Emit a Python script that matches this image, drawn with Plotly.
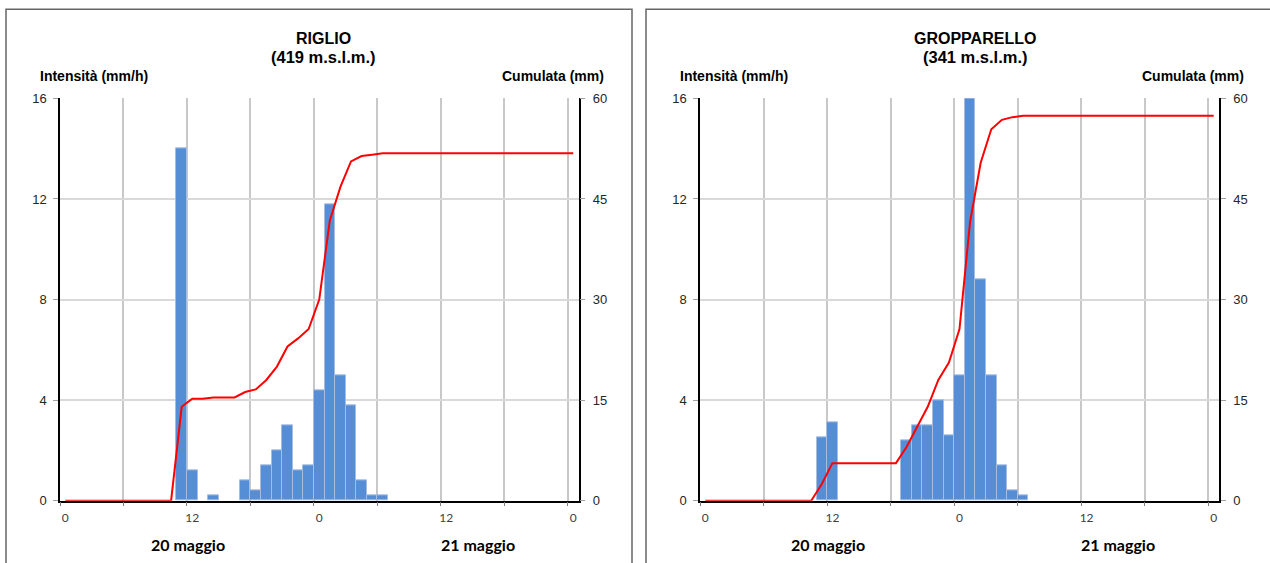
import numpy as np
import plotly.graph_objects as go

# ---------------- data ----------------
hours = list(range(49))  # hourly categories, 20 May 00:00 -> 22 May 00:00
tick_labels = ["0", "12", "0", "12", "0"]
day_labels = ["20 maggio", "21 maggio"]

stations = ["RIGLIO", "GROPPARELLO"]
altitudes = ["(419 m.s.l.m.)", "(341 m.s.l.m.)"]

# hourly intensity (mm/h)
riglio_int = [0, 0, 0, 0, 0, 0, 0, 0, 0, 0, 0, 14.0, 1.2, 0, 0.2, 0, 0, 0.8, 0.4, 1.4,
              2.0, 3.0, 1.2, 1.4, 4.4, 11.8, 5.0, 3.8, 0.8, 0.2, 0.2, 0, 0, 0, 0, 0, 0, 0,
              0, 0, 0, 0, 0, 0, 0, 0, 0, 0, 0]
gropparello_int = [0, 0, 0, 0, 0, 0, 0, 0, 0, 0, 0, 2.5, 3.1, 0, 0, 0, 0, 0, 0, 2.4,
                   3.0, 3.0, 4.0, 2.6, 5.0, 16.0, 8.8, 5.0, 1.4, 0.4, 0.2, 0, 0, 0, 0, 0, 0, 0,
                   0, 0, 0, 0, 0, 0, 0, 0, 0, 0, 0]

W, H = 1270, 563
def px(x):
    return x / W
def py(y):
    # vertical pixel position (as seen on the photographed page) -> paper fraction
    yf = (y - 6.7) / 0.9726
    return 1 - yf / H

BAR = "#558ED5"
BAR_EDGE = "#A7BDE0"
RED = "#FF0000"
AX_FONT = "Liberation Sans, Arial, sans-serif"
CAL_FONT = "Lato, Carlito, sans-serif"

fig = go.Figure()

panels = [
    dict(data=riglio_int, x="x", y="y", y2="y2", xl=60, xr=578.5, tc=323, il=38, cr=606, d=[188, 478]),
    dict(data=gropparello_int, x="x2", y="y3", y2="y4", xl=700, xr=1219, tc=975, il=678, cr=1246, d=[828, 1118]),
]

centers = [h + 0.5 for h in hours]
for i, p in enumerate(panels):
    vals = p["data"]
    cum = np.cumsum(vals)
    bar_y = [v if v > 0 else None for v in vals]
    fig.add_trace(go.Bar(x=centers, y=bar_y, width=1.0, xaxis=p["x"], yaxis=p["y"],
                         marker=dict(color=BAR, line=dict(color=BAR_EDGE, width=1)),
                         showlegend=False))
    fig.add_trace(go.Scatter(x=centers, y=cum, mode="lines", xaxis=p["x"], yaxis=p["y2"],
                             line=dict(color=RED, width=2), showlegend=False))

ydom = [py(500), py(98)]

def xaxis_cfg(p, anchor):
    return dict(domain=[px(p["xl"]), px(p["xr"])], anchor=anchor, range=[0, 49],
                tickmode="array", tickvals=[0.5, 12.5, 24.5, 36.5, 48.5], ticktext=tick_labels,
                ticks="", showgrid=False, zeroline=False,
                showline=True, linecolor="black", linewidth=1.5,
                ticklabelstandoff=5,
                tickfont=dict(family=CAL_FONT, size=12, color="#404040"),
                minor=dict(tickmode="array", tickvals=list(range(0, 49, 6)), showgrid=True,
                           gridcolor="#C8C8C8", gridwidth=1.5, ticks="outside", ticklen=4,
                           tickcolor="#808080"))

def yleft_cfg(anchor):
    return dict(domain=ydom, anchor=anchor, range=[0, 16], tickmode="array",
                tickvals=[0, 4, 8, 12, 16], showgrid=True, gridcolor="#D9D9D9", gridwidth=1.5,
                zeroline=False, showline=True, linecolor="black", linewidth=1.5,
                ticks="outside", ticklen=5, tickcolor="#A0A0A0", ticklabelstandoff=4,
                tickfont=dict(family=AX_FONT, size=13, color="#262626"))

def yright_cfg(anchor, over):
    return dict(anchor=anchor, overlaying=over, side="right", range=[0, 60], tickmode="array",
                tickvals=[0, 15, 30, 45, 60], showgrid=False, zeroline=False,
                showline=True, linecolor="black", linewidth=1.5,
                ticks="outside", ticklen=5, tickcolor="#A0A0A0", ticklabelstandoff=5,
                tickfont=dict(family=AX_FONT, size=13, color="#262626"))

fig.update_layout(
    width=W, height=H, margin=dict(l=0, r=0, t=0, b=0),
    paper_bgcolor="white", plot_bgcolor="white", bargap=0, showlegend=False,
    xaxis=xaxis_cfg(panels[0], "y"),
    yaxis=yleft_cfg("x"),
    yaxis2=yright_cfg("x", "y"),
    xaxis2=xaxis_cfg(panels[1], "y3"),
    yaxis3=yleft_cfg("x2"),
    yaxis4=yright_cfg("x2", "y3"),
)

ann = []
for i, p in enumerate(panels):
    ann.append(dict(text="<b>%s</b>" % stations[i], x=px(p["tc"]), y=py(38), xref="paper", yref="paper",
                    xanchor="center", yanchor="middle", showarrow=False,
                    font=dict(family=AX_FONT, size=16, color="black")))
    ann.append(dict(text="<b>%s</b>" % altitudes[i], x=px(p["tc"]), y=py(57), xref="paper", yref="paper",
                    xanchor="center", yanchor="middle", showarrow=False,
                    font=dict(family=AX_FONT, size=16.5, color="black")))
    ann.append(dict(text="<b>Intensità (mm/h)</b>", x=px(p["il"]), y=py(76), xref="paper", yref="paper",
                    xanchor="left", yanchor="middle", showarrow=False,
                    font=dict(family=AX_FONT, size=14, color="black")))
    ann.append(dict(text="<b>Cumulata (mm)</b>", x=px(p["cr"]), y=py(76), xref="paper", yref="paper",
                    xanchor="right", yanchor="middle", showarrow=False,
                    font=dict(family=AX_FONT, size=14, color="black")))
    for j, d in enumerate(day_labels):
        ann.append(dict(text="<b>%s</b>" % d, x=px(p["d"][j]), y=py(544), xref="paper", yref="paper",
                        xanchor="center", yanchor="middle", showarrow=False,
                        font=dict(family=CAL_FONT, size=16, color="black")))
fig.update_layout(annotations=ann)

shapes = [
    dict(type="rect", xref="paper", yref="paper", x0=px(6), x1=px(632), y0=py(660), y1=py(9),
         line=dict(color="#666666", width=1.5), fillcolor="rgba(0,0,0,0)", layer="below"),
    dict(type="rect", xref="paper", yref="paper", x0=px(646), x1=px(1320), y0=py(660), y1=py(9),
         line=dict(color="#666666", width=1.5), fillcolor="rgba(0,0,0,0)", layer="below"),
]
fig.update_layout(shapes=shapes)

post = (
    "var gd=document.getElementById('{plot_id}');"
    "var de=document.documentElement;de.style.margin='0';de.style.padding='0';de.style.overflow='hidden';"
    "document.body.style.margin='0';document.body.style.padding='0';document.body.style.overflow='hidden';"
    "gd.style.position='absolute';gd.style.left='0px';gd.style.top='0px';"
)
fig.write_html("out.html", config={"displayModeBar": False}, post_script=post)
